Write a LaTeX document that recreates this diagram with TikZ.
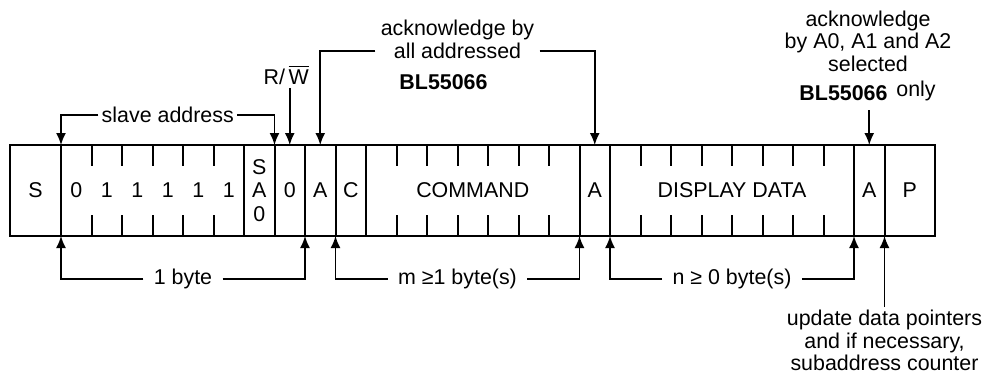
\documentclass[tikz,border=0pt]{standalone}
\usepackage{fontspec}
\setmainfont{Liberation Sans}
\usetikzlibrary{positioning,arrows.meta}

\begin{document}
\begin{tikzpicture}[font=\fontsize{10.7}{11.25}\selectfont,
  field/.style={draw,line width=1pt,minimum height=45.5pt,minimum width=15.25pt,inner sep=0pt,outer sep=0pt},
  tick/.style={line width=1pt},
  lead/.style={line width=0.8pt,-{Latex[length=6pt,width=5pt]}},
  lbl/.style={inner sep=1.5pt,align=center},
  boldlbl/.style={inner sep=1pt,font=\fontsize{10.7}{11.25}\selectfont\bfseries}]
\useasboundingbox (-5pt,-92.75pt) rectangle (486.5pt,95.25pt);

% the frame
\node[field,minimum width=25.5pt,anchor=west] (S) at (0,0) {S};
\node[field,minimum width=91.5pt,right=0pt of S] (addr) {};
\node[field,right=0pt of addr,align=center,font=\fontsize{10.7}{11.75}\selectfont] (sa) {S\\A\\0};
\node[field,right=0pt of sa] (rw) {0};
\node[field,right=0pt of rw] (ack1) {A};
\node[field,right=0pt of ack1] (cbit) {C};
\node[field,minimum width=106.75pt,right=0pt of cbit] (cmd) {COMMAND};
\node[field,right=0pt of cmd] (ack2) {A};
\node[field,minimum width=122pt,right=0pt of ack2] (data) {DISPLAY DATA};
\node[field,right=0pt of data] (ack3) {A};
\node[field,minimum width=25.25pt,right=0pt of ack3] (P) {P};
\foreach \b [count=\i] in {0,1,1,1,1,1}
  \node (bit\i) at ([xshift=(\i-0.5)*15.25pt]addr.west) {\b};
\foreach \f/\n in {addr/5,cmd/6,data/7}
  \foreach \k in {1,...,\n} {
    \draw[tick] ([xshift=\k*15.25pt]\f.north west) -- ++(0,-10.5pt);
    \draw[tick] ([xshift=\k*15.25pt]\f.south west) -- ++(0,10.5pt);
  }

% above
\path (S.north east) -- node[lbl,yshift=15pt] (slave) {slave address} (sa.north east);
\draw[lead] (slave.west) -| (S.north east);
\draw[lead] (slave.east) -| (sa.north east);
\node[lbl] (rwtext) at ([xshift=-1.75pt,yshift=35pt]rw.north) {R/\,$\overline{\mbox{W}}$};
\draw[lead] (rwtext.south -| rw.north) -- (rw.north);
\path (ack1.north) -- node[lbl,inner xsep=2.5pt,yshift=52.75pt] (ackall) {acknowledge by\\all addressed} (ack2.north);
\draw[lead] ([yshift=-5.7pt]ackall.west) -| (ack1.north);
\draw[lead] ([yshift=-5.7pt]ackall.east) -| (ack2.north);
\node[boldlbl] (blleft) at (216.75pt,54pt) {BL55066};
\node[lbl] (ackone) at (429pt,74.75pt) {acknowledge\\by A0, A1 and A2\\selected};
\node[lbl] (only) at (453pt,49.75pt) {only};
\node[boldlbl] (blright) at (416.75pt,48.5pt) {BL55066};
\coordinate (acktail) at ([yshift=17.5pt]ack3.north);
\draw[lead] (acktail) -- (ack3.north);

% below
\path (S.south east) -- node[lbl,inner xsep=5pt,yshift=-21.5pt] (onebyte) {1 byte} (rw.south east);
\draw[lead] (onebyte.west) -| (S.south east);
\draw[lead] (onebyte.east) -| (rw.south east);
\path (ack1.south east) -- node[lbl,inner xsep=5pt,yshift=-21.5pt] (mbytes) {m ≥1 byte(s)} (cmd.south east);
\draw[lead] (mbytes.west) -| (ack1.south east);
\draw[lead] (mbytes.east) -| (cmd.south east);
\path (ack2.south east) -- node[lbl,inner xsep=5pt,yshift=-21.5pt] (nbytes) {n ≥ 0 byte(s)} (data.south east);
\draw[lead] (nbytes.west) -| (ack2.south east);
\draw[lead] (nbytes.east) -| (data.south east);
\node[lbl,anchor=north] (update) at ([yshift=-35.5pt]ack3.south east) {update data pointers\\and if necessary,\\subaddress counter};
\draw[lead] (update.north) -- (ack3.south east);
\end{tikzpicture}
\end{document}
